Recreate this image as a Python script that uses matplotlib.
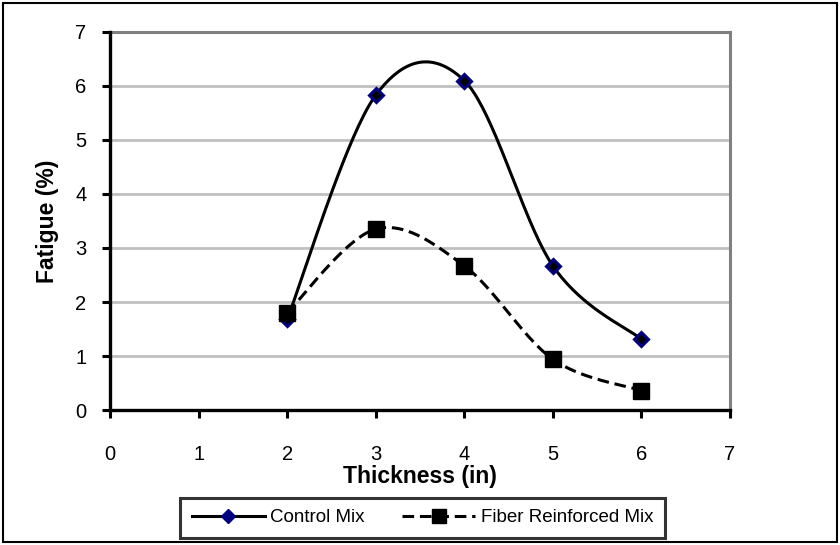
import numpy as np
import matplotlib
matplotlib.use("Agg")
import matplotlib.pyplot as plt
from matplotlib.patches import Rectangle
from matplotlib.lines import Line2D

plt.rcParams['font.family'] = ['Liberation Sans', 'DejaVu Sans']

thickness = [2, 3, 4, 5, 6]
control_mix = [1.68, 5.83, 6.10, 2.67, 1.31]
fiber_mix = [1.80, 3.35, 2.67, 0.94, 0.36]
x_ticks = [0, 1, 2, 3, 4, 5, 6, 7]
y_ticks = [0, 1, 2, 3, 4, 5, 6, 7]


def smooth(xs, ys, n=40):
    """Excel style smoothed line: cubic bezier through points, tangents from neighbours"""
    p = np.column_stack([xs, ys]).astype(float)
    p_ext = np.vstack([p[0], p, p[-1]])        #repeat end points
    out = [p[:1]]
    t = np.linspace(0, 1, n)[1:, None]
    for i in range(len(p) - 1):
        p0, p1, p2, p3 = p_ext[i], p_ext[i + 1], p_ext[i + 2], p_ext[i + 3]
        c1 = p1 + (p2 - p0) / 6
        c2 = p2 - (p3 - p1) / 6
        seg = (1 - t)**3 * p1 + 3 * (1 - t)**2 * t * c1 + 3 * (1 - t) * t**2 * c2 + t**3 * p2
        out.append(seg)
    out = np.vstack(out)
    return out[:, 0], out[:, 1]


fig = plt.figure(figsize=(8.4, 5.45), dpi=100)
ax = fig.add_axes([0.131, 0.2477, 0.738, 0.6936])

dash = (3.8, 1.9)

# gridlines
ax.set_axisbelow(True)
ax.yaxis.grid(True, color='#C0C0C0', lw=2.0)

cx, cy = smooth(thickness, control_mix)
ax.plot(cx, cy, color='black', lw=2.2, solid_capstyle='butt', zorder=3)
ax.plot(thickness, control_mix, ls='none', marker='D', ms=7.5, mfc='black',
        mec='#000080', mew=2.2, zorder=4)

fx, fy = smooth(thickness, fiber_mix)
ax.plot(fx, fy, color='black', lw=2.2, dashes=dash, zorder=3)
ax.plot(thickness, fiber_mix, ls='none', marker='s', ms=12, mfc='black',
        mec='black', zorder=4)

ax.set_xlim(0, 7)
ax.set_ylim(0, 7)
ax.set_xticks(x_ticks)
ax.set_yticks(y_ticks)
ax.tick_params(axis='both', direction='out', length=6, width=2.2, labelsize=14.5, color='black')
ax.tick_params(axis='x', pad=19)
ax.tick_params(axis='y', pad=11)

for side in ['left', 'bottom']:
    ax.spines[side].set_color('black')
    ax.spines[side].set_linewidth(2.4)
    ax.spines[side].set_zorder(5)
for side in ['top', 'right']:
    ax.spines[side].set_color('#808080')
    ax.spines[side].set_linewidth(2.2)

ax.set_xlabel('Thickness (in)', fontsize=16.5, fontweight='bold')
ax.set_ylabel('Fatigue (%)', fontsize=16.5, fontweight='bold')
ax.xaxis.set_label_coords(0.5, -0.177)
ax.xaxis.label.set_va('center')
ax.yaxis.set_label_coords(-0.1016, 0.5)
ax.yaxis.label.set_va('center')

handles = [
    Line2D([], [], color='black', lw=2.2, marker='D', ms=7.5, mfc='#000080', mec='#000080'),
    Line2D([], [], color='black', lw=2.2, dashes=dash, marker='s', ms=10, mfc='black', mec='black'),
]
leg = fig.legend(handles, ['Control Mix', 'Fiber Reinforced Mix'], loc='center',
                 bbox_to_anchor=(0.503, 0.05), ncol=2, frameon=True, fancybox=False,
                 fontsize=13.5, handlelength=3.9, handletextpad=0.3, columnspacing=2.0,
                 borderpad=0.6)
leg.get_frame().set_edgecolor('black')
leg.get_frame().set_linewidth(2.2)

# outer chart border
fig.patches.append(Rectangle((0.004, 0.005), 0.992, 0.99, transform=fig.transFigure,
                             fill=False, edgecolor='black', lw=1.5))

fig.savefig('out.png', dpi=100)
